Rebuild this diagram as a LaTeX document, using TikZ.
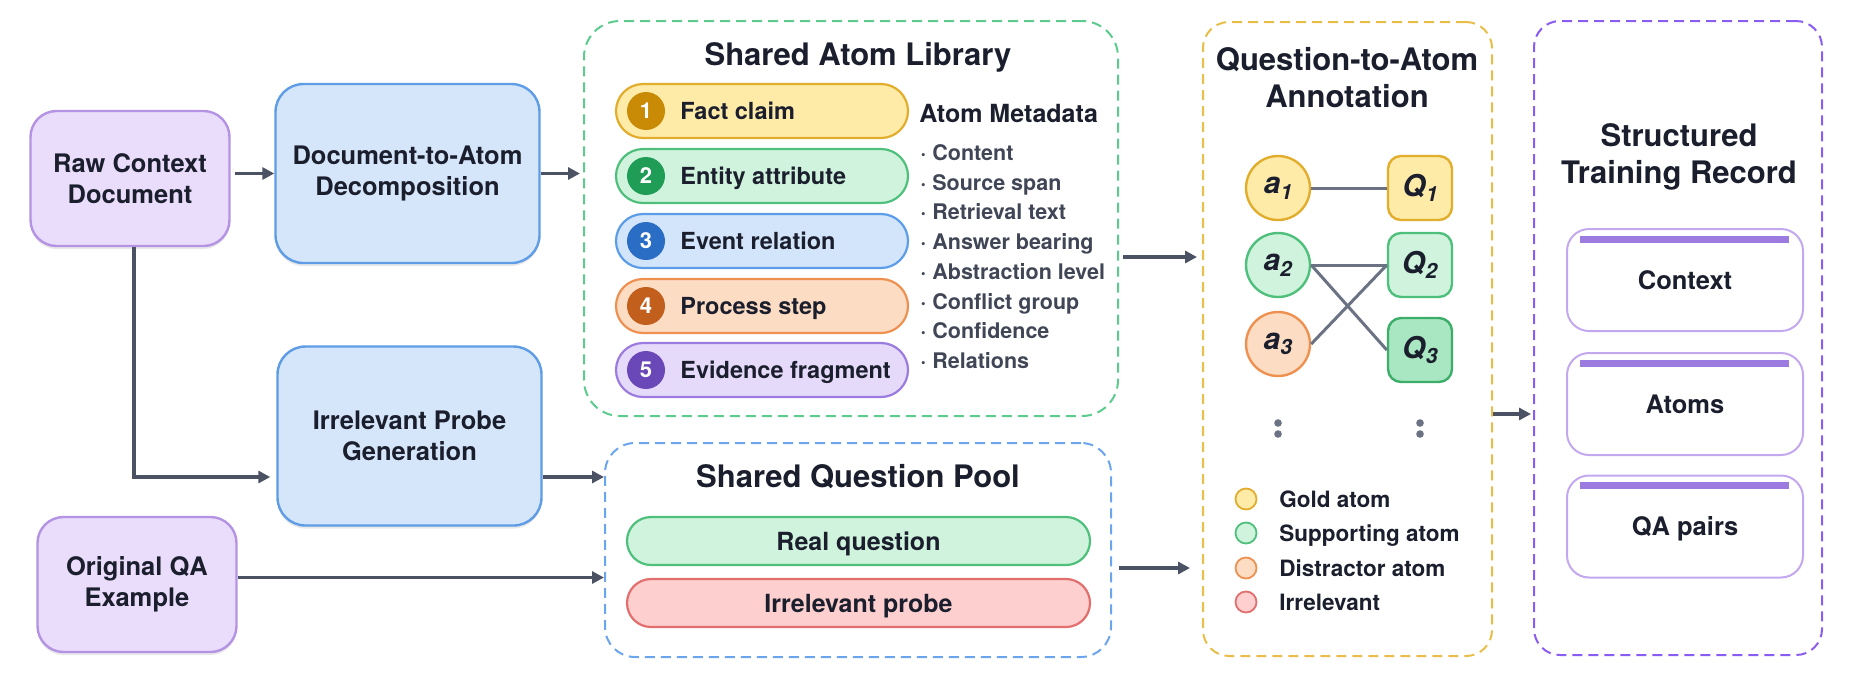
\documentclass[tikz,border=0pt]{standalone}
\usepackage{fontspec}
\setmainfont{TeX Gyre Heros}
\usetikzlibrary{arrows.meta,positioning,shadows}

\definecolor{ink}{HTML}{1B1F2D}
\definecolor{greyink}{HTML}{404656}
\definecolor{arrowc}{HTML}{4B5263}
\definecolor{linkc}{HTML}{6B7283}
\definecolor{srcfill}{HTML}{EADDFB}
\definecolor{srcdraw}{HTML}{B593E4}
\definecolor{procfill}{HTML}{D6E6FA}
\definecolor{procdraw}{HTML}{5E9DE6}
\definecolor{goldfill}{HTML}{FFEBA8}
\definecolor{golddraw}{HTML}{E2AD2C}
\definecolor{golddot}{HTML}{C98A06}
\definecolor{suppfill}{HTML}{CFF3DC}
\definecolor{suppdraw}{HTML}{4FC07C}
\definecolor{suppdot}{HTML}{1F9C56}
\definecolor{darkfill}{HTML}{A9E6C2}
\definecolor{darkdraw}{HTML}{3DAE6A}
\definecolor{evtfill}{HTML}{D3E5FB}
\definecolor{evtdraw}{HTML}{5C9DEA}
\definecolor{evtdot}{HTML}{2A6DC4}
\definecolor{distfill}{HTML}{FDDCC4}
\definecolor{distdraw}{HTML}{EE9150}
\definecolor{distdot}{HTML}{C25F1C}
\definecolor{evifill}{HTML}{E6DAFA}
\definecolor{evidraw}{HTML}{9B7BE0}
\definecolor{evidot}{HTML}{6A48B8}
\definecolor{irrfill}{HTML}{FDCFCF}
\definecolor{irrdraw}{HTML}{E26E6E}
\definecolor{libdash}{HTML}{5CCB8E}
\definecolor{pooldash}{HTML}{6AA5EE}
\definecolor{anndash}{HTML}{E8BE48}
\definecolor{recdash}{HTML}{8B5CF0}
\definecolor{carddraw}{HTML}{C3A8EF}
\definecolor{barpurple}{HTML}{9B7BE0}

\newcommand{\atomsub}[2]{\textit{#1}\raisebox{-0.35ex}{\fontsize{10.5}{10.5}\selectfont\textit{#2}}}

\tikzset{
  srcbox/.style={draw=srcdraw, fill=srcfill, line width=1.2pt, rounded corners=13pt,
    minimum width=99.5pt, minimum height=67.5pt, align=center, text=ink,
    font=\bfseries\fontsize{12.75}{15.5}\selectfont,
    drop shadow={shadow xshift=0pt, shadow yshift=-1.5pt, opacity=0.18}},
  procbox/.style={srcbox, draw=procdraw, fill=procfill, rounded corners=14pt,
    minimum width=132pt, minimum height=89.5pt},
  groupbox/.style={draw, dash pattern=on 5pt off 3pt, line width=1pt,
    rounded corners=18pt, inner sep=0pt},
  grouptitle/.style={font=\bfseries\fontsize{15.5}{18.5}\selectfont, text=ink, align=center},
  pill/.style={line width=1.1pt, rounded corners=13.5pt, minimum width=146pt, minimum height=27pt},
  numdot/.style={circle, minimum size=19pt, inner sep=0pt, text=white,
    font=\bfseries\fontsize{11}{11}\selectfont},
  pilltext/.style={anchor=west, inner sep=0pt, text=ink, text height=10.96pt, text depth=2.5pt,
    font=\bfseries\fontsize{11.75}{14}\selectfont},
  metahead/.style={anchor=west, inner sep=0pt, text=ink, text height=11.5pt, text depth=2.5pt,
    font=\bfseries\fontsize{12.5}{15}\selectfont},
  metaitem/.style={anchor=west, inner sep=0pt, text=greyink, text height=10.24pt, text depth=2.5pt,
    font=\bfseries\fontsize{10.75}{13}\selectfont},
  qpill/.style={line width=1.1pt, rounded corners=12pt, minimum width=231.5pt, minimum height=24pt,
    text=ink, text height=11.5pt, text depth=2.5pt, font=\bfseries\fontsize{12.5}{15}\selectfont},
  atomnode/.style={circle, minimum size=32pt, inner sep=0pt, line width=1.2pt, text=ink,
    font=\bfseries\fontsize{15}{15}\selectfont},
  qnode/.style={rectangle, rounded corners=6.5pt, minimum size=32pt, inner sep=0pt, line width=1.2pt,
    text=ink, font=\bfseries\fontsize{15}{15}\selectfont},
  link/.style={draw=linkc, line width=1.5pt},
  legdot/.style={circle, minimum size=10.5pt, inner sep=0pt, line width=0.9pt},
  legtext/.style={anchor=west, inner sep=0pt, text=ink, text height=10.6pt, text depth=2.5pt,
    font=\bfseries\fontsize{11.25}{13}\selectfont},
  card/.style={draw=carddraw, fill=white, line width=1pt, rounded corners=11pt,
    minimum width=118pt, minimum height=51pt, text=ink, text height=11.68pt, text depth=2.5pt,
    font=\bfseries\fontsize{12.75}{15}\selectfont},
  cardline/.style={draw=barpurple, line width=3.5pt},
  flowarrow/.style={->, draw=arrowc, line width=1.6pt},
}

\begin{document}
\begin{tikzpicture}[x=0.5pt, y=-0.5pt, >={Triangle[length=6pt,width=6pt]}]
\useasboundingbox (0,0) rectangle (1856,692);
% Inputs
  \node[srcbox] (raw) at (130,178.5) {Raw Context\\Document};
  \node[srcbox] (qa) at (137,584.5) {Original QA\\Example};
% Processing steps
  \node[procbox] (doc) at (407.5,173.5) {Document-to-Atom\\Decomposition};
  \node[procbox] (probe) at (409.5,436) {Irrelevant Probe\\Generation};
%
% Shared atom library
  \node[groupbox, draw=libdash, minimum width=267pt, minimum height=197.5pt] (lib) at (851,218.5) {};
  \node[grouptitle] (libtitle) at (858,57) {Shared Atom Library};
  \node[pill, draw=golddraw, fill=goldfill] (fact) at (762,111) {};
  \node[numdot, fill=golddot] (n1) at (646,111) {1};
  \node[pilltext] (factlbl) at (680,111) {Fact claim};
  \node[pill, draw=suppdraw, fill=suppfill] (entity) at (762,176) {};
  \node[numdot, fill=suppdot] (n2) at (646,176) {2};
  \node[pilltext] (entitylbl) at (680,176) {Entity attribute};
  \node[pill, draw=evtdraw, fill=evtfill] (event) at (762,241) {};
  \node[numdot, fill=evtdot] (n3) at (646,241) {3};
  \node[pilltext] (eventlbl) at (680,241) {Event relation};
  \node[pill, draw=distdraw, fill=distfill] (process) at (762,306) {};
  \node[numdot, fill=distdot] (n4) at (646,306) {4};
  \node[pilltext] (processlbl) at (680,306) {Process step};
  \node[pill, draw=evidraw, fill=evifill] (evidence) at (762,370) {};
  \node[numdot, fill=evidot] (n5) at (646,370) {5};
  \node[pilltext] (evidencelbl) at (680,370) {Evidence fragment};
% Metadata list
  \node[metahead] (meta) at (919,113) {Atom Metadata};
  \node[metaitem] (m1) at (920,153) {· Content};
  \node[metaitem] (m2) at (920,183) {· Source span};
  \node[metaitem] (m3) at (920,212) {· Retrieval text};
  \node[metaitem] (m4) at (920,242) {· Answer bearing};
  \node[metaitem] (m5) at (920,272) {· Abstraction level};
  \node[metaitem] (m6) at (920,302) {· Conflict group};
  \node[metaitem] (m7) at (920,331) {· Confidence};
  \node[metaitem] (m8) at (920,361) {· Relations};
%
% Shared question pool
  \node[groupbox, draw=pooldash, rounded corners=15pt, minimum width=253pt, minimum height=107pt] (pool) at (858,550) {};
  \node[grouptitle] (pooltitle) at (858,477) {Shared Question Pool};
  \node[qpill, draw=suppdraw, fill=suppfill] (real) at (858.5,541) {Real question};
  \node[qpill, draw=irrdraw, fill=irrfill] (irr) at (858.5,603) {Irrelevant probe};
%
% Question-to-atom annotation
  \node[groupbox, draw=anndash, rounded corners=13pt, minimum width=144.5pt, minimum height=317pt] (ann) at (1347.5,339) {};
  \node[grouptitle] (anntitle) at (1347,77.5) {Question-to-Atom\\Annotation};
  \node[atomnode, draw=golddraw, fill=goldfill] (a1) at (1278,188) {\atomsub{a}{1}};
  \node[atomnode, draw=suppdraw, fill=suppfill] (a2) at (1278,265) {\atomsub{a}{2}};
  \node[atomnode, draw=distdraw, fill=distfill] (a3) at (1278,344) {\atomsub{a}{3}};
  \node[qnode, draw=golddraw, fill=goldfill] (q1) at (1420,188) {\atomsub{Q}{1}};
  \node[qnode, draw=suppdraw, fill=suppfill] (q2) at (1420,265) {\atomsub{Q}{2}};
  \node[qnode, draw=darkdraw, fill=darkfill] (q3) at (1420,350) {\atomsub{Q}{3}};
  \draw[link] (a1.east) -- (q1.west);
  \draw[link] (a2.east) -- (q2.west);
  \draw[link] (a2.east) -- (q3.west);
  \draw[link] (a3.east) -- (q2.west);
  \fill[linkc] (1278,423) circle (1.9pt) (1278,434) circle (1.9pt);
  \fill[linkc] (1420,423) circle (1.9pt) (1420,434) circle (1.9pt);
% Legend
  \node[legdot, draw=golddraw, fill=goldfill] (lg1) at (1246,499) {};
  \node[legtext] (lg1t) at (1279,499) {Gold atom};
  \node[legdot, draw=suppdraw, fill=suppfill] (lg2) at (1246,533) {};
  \node[legtext] (lg2t) at (1279,533) {Supporting atom};
  \node[legdot, draw=distdraw, fill=distfill] (lg3) at (1246,568) {};
  \node[legtext] (lg3t) at (1279,568) {Distractor atom};
  \node[legdot, draw=irrdraw, fill=irrfill] (lg4) at (1246,602) {};
  \node[legtext] (lg4t) at (1279,602) {Irrelevant};
%
% Structured training record
  \node[groupbox, draw=recdash, rounded corners=13pt, minimum width=144pt, minimum height=317pt] (rec) at (1678,338) {};
  \node[grouptitle] (rectitle) at (1679,156.5) {Structured\\Training Record};
  \node[card] (ctx) at (1685,280) {Context};
  \draw[cardline] ([xshift=7pt,yshift=-5.5pt]ctx.north west) -- ([xshift=-7.5pt,yshift=-5.5pt]ctx.north east);
  \node[card] (atoms) at (1685,404) {Atoms};
  \draw[cardline] ([xshift=7pt,yshift=-5.5pt]atoms.north west) -- ([xshift=-7.5pt,yshift=-5.5pt]atoms.north east);
  \node[card] (pairs) at (1685,526.5) {QA pairs};
  \draw[cardline] ([xshift=7pt,yshift=-5.5pt]pairs.north west) -- ([xshift=-7.5pt,yshift=-5.5pt]pairs.north east);
%
% Flow arrows
  \coordinate (split) at (134,477);
  \coordinate (libout) at (1122,257);
  \coordinate (poolout) at (1118,568);
  \coordinate (annout) at (1494,414);
  \draw[flowarrow, shorten <=2pt] (raw.east |- doc.west) -- (doc.west);
  \draw[flowarrow, shorten >=1.5pt] (doc.east) -- (doc.east -| lib.west);
  \draw[flowarrow, shorten >=3pt] (raw.south -| split) -- (split) -- (split -| probe.west);
  \draw[flowarrow] (probe.east |- split) -- (split -| pool.west);
  \draw[flowarrow] ([yshift=3.5pt]qa.east) -- ([yshift=3.5pt]qa.east -| pool.west);
  \draw[flowarrow, shorten <=2pt, shorten >=2.5pt] (lib.east |- libout) -- (libout -| ann.west);
  \draw[flowarrow, shorten <=3.5pt, shorten >=6pt] (pool.east |- poolout) -- (poolout -| ann.west);
  \draw[flowarrow, shorten >=1pt] (ann.east |- annout) -- (annout -| rec.west);
\end{tikzpicture}
\end{document}
